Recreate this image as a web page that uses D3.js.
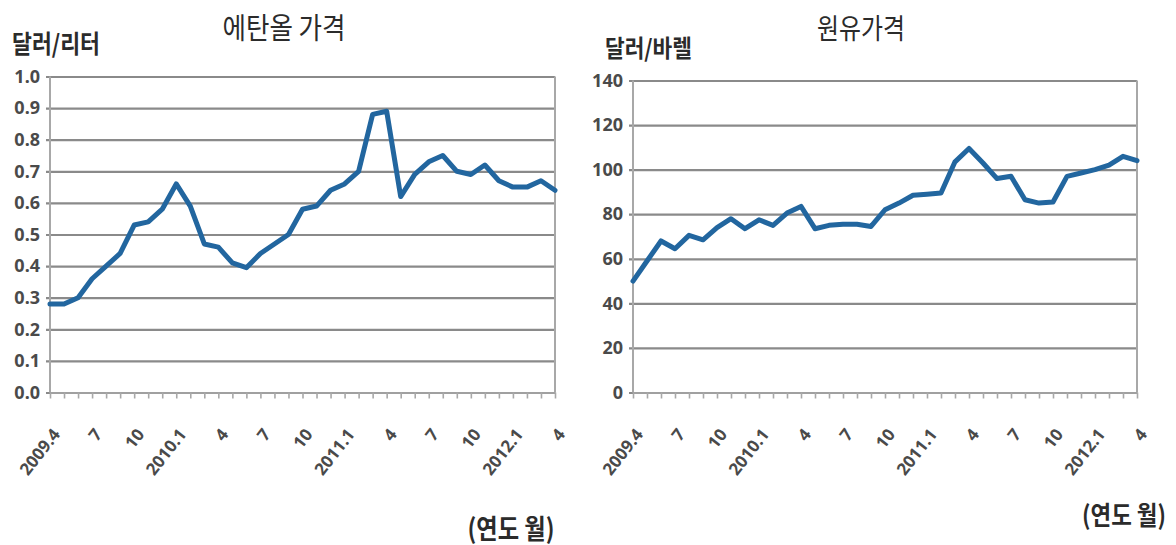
<!DOCTYPE html>
<html>
<head>
<meta charset="utf-8">
<script src="https://cdn.jsdelivr.net/npm/d3@7"></script>
<style>
  html, body { margin: 0; padding: 0; background: #fff; }
  svg { display: block; }
</style>
</head>
<body>
<svg id="chart" width="1176" height="545"></svg>
<script>
// Monthly categories, April 2009 – April 2012
const months = [
  "2009.4","2009.5","2009.6","2009.7","2009.8","2009.9","2009.10","2009.11","2009.12",
  "2010.1","2010.2","2010.3","2010.4","2010.5","2010.6","2010.7","2010.8","2010.9",
  "2010.10","2010.11","2010.12","2011.1","2011.2","2011.3","2011.4","2011.5","2011.6",
  "2011.7","2011.8","2011.9","2011.10","2011.11","2011.12","2012.1","2012.2","2012.3","2012.4"
];

// Labelled months on the category axis and their text
const tickMonths = ["2009.4","2009.7","2009.10","2010.1","2010.4","2010.7","2010.10",
                    "2011.1","2011.4","2011.7","2011.10","2012.1","2012.4"];
const tickLabels = ["2009.4","7","10","2010.1","4","7","10","2011.1","4","7","10","2012.1","4"];

// Ethanol price (USD per litre)
const ethanol = [0.28,0.28,0.30,0.36,0.40,0.44,0.53,0.54,0.58,0.66,0.59,0.47,0.46,
                 0.41,0.395,0.44,0.47,0.50,0.58,0.59,0.64,0.66,0.70,0.88,0.89,0.62,
                 0.69,0.73,0.75,0.70,0.69,0.72,0.67,0.65,0.65,0.67,0.64];
const ethanolTicks = [0,0.1,0.2,0.3,0.4,0.5,0.6,0.7,0.8,0.9,1.0];

// Crude oil price (USD per barrel)
const crude = [50,59,68,64.5,70.5,68.5,74,78,73.5,77.5,75,80.5,83.5,73.5,75,75.5,
               75.5,74.5,82,85,88.5,89,89.5,103.5,109.5,103,96,97,86.5,85,85.5,97,
               98.5,100,102,106,104];
const crudeTicks = [0,20,40,60,80,100,120,140];

const svg = d3.select("#chart");
const KR = "'Noto Sans CJK KR', 'Noto Sans', sans-serif";
const NUM = "'Noto Sans', 'DejaVu Sans', sans-serif";

// Korean text squeezed horizontally to a given width
function krText(x, y, str, size, width, weight, anchor) {
  const t = svg.append("text")
    .attr("font-family", KR)
    .attr("font-size", size)
    .attr("font-weight", weight)
    .attr("fill", "#2b2b2b")
    .attr("text-anchor", anchor || "middle")
    .attr("dominant-baseline", "central")
    .text(str);
  const natural = t.node().getComputedTextLength() || width;
  t.attr("transform", `translate(${x},${y}) scale(${width / natural},1)`);
}

function panel(cfg) {
  const x = d3.scalePoint().domain(months).range([cfg.x0, cfg.x1]);
  const y = d3.scaleLinear().domain([0, cfg.max]).range([cfg.yb, cfg.yt]);
  const g = svg.append("g");

  // horizontal gridlines with value labels
  const grid = g.append("g")
    .attr("transform", `translate(${cfg.x0 - 4},0)`)
    .call(d3.axisLeft(y).tickValues(cfg.ticks)
      .tickSize(-(cfg.x1 - cfg.x0 + 4)).tickPadding(6)
      .tickFormat(cfg.fmt));
  grid.select(".domain").remove();
  grid.selectAll(".tick line").attr("stroke", "#8a8a8a").attr("stroke-width", 2.2);
  grid.selectAll(".tick text")
    .attr("font-family", NUM).attr("font-size", 18).attr("font-weight", 700)
    .attr("fill", "#4a4a4a");

  // vertical borders of the plot area
  g.append("line").attr("x1", cfg.x0).attr("x2", cfg.x0)
    .attr("y1", cfg.yt).attr("y2", cfg.yb)
    .attr("stroke", "#a8a8a8").attr("stroke-width", 2);
  g.append("line").attr("x1", cfg.x1).attr("x2", cfg.x1)
    .attr("y1", cfg.yt).attr("y2", cfg.yb)
    .attr("stroke", "#a8a8a8").attr("stroke-width", 2);

  // category axis with a tick at every month
  const xa = g.append("g")
    .attr("transform", `translate(0,${cfg.yb})`)
    .call(d3.axisBottom(x).tickSize(6).tickSizeOuter(0).tickFormat(""));
  xa.select(".domain").attr("stroke", "#a0a0a0").attr("stroke-width", 2.2);
  xa.selectAll(".tick line").attr("stroke", "#a8a8a8").attr("stroke-width", 1.6);

  // rotated month labels
  g.append("g").selectAll("text")
    .data(tickMonths)
    .join("text")
    .attr("transform", d => `translate(${x(d) + 11},${cfg.yb + 42}) rotate(-52)`)
    .attr("text-anchor", "end")
    .attr("font-family", NUM).attr("font-size", 17).attr("font-weight", 700)
    .attr("fill", "#4a4a4a")
    .text((d, i) => tickLabels[i]);

  // price line
  g.append("path")
    .datum(cfg.values)
    .attr("fill", "none")
    .attr("stroke", "#22669f")
    .attr("stroke-width", 5)
    .attr("stroke-linejoin", "round")
    .attr("stroke-linecap", "round")
    .attr("d", d3.line().x((d, i) => x(months[i])).y(d => y(d)));
}

panel({ x0: 50, x1: 555, yt: 76.5, yb: 392.5, max: 1.0,
        ticks: ethanolTicks, fmt: d3.format(".1f"), values: ethanol });
panel({ x0: 633, x1: 1137, yt: 80.5, yb: 392.5, max: 140,
        ticks: crudeTicks, fmt: d3.format("d"), values: crude });

// titles, units and axis captions
krText(284, 26, "에탄올 가격", 29, 123, 400);
krText(861, 27, "원유가격", 28, 88, 400);
krText(12, 42, "달러/리터", 25, 88, 700, "start");
krText(605, 47, "달러/바렐", 24, 87, 700, "start");
krText(511, 527, "(연도 월)", 27, 87, 700);
krText(1124, 514, "(연도 월)", 26, 84, 700);
</script>
</body>
</html>
